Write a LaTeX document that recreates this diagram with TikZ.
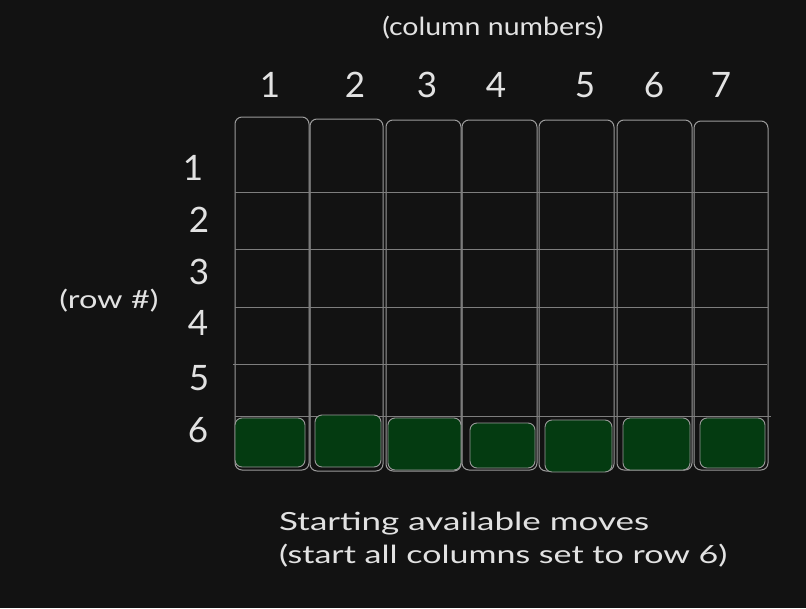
\documentclass[tikz,border=0pt]{standalone}
\usepackage{fontspec}
\setmainfont{Lato}
\definecolor{bg}{HTML}{121212}
\definecolor{ln}{HTML}{9A9A9A}
\definecolor{hl}{HTML}{7E7E7E}
\definecolor{gfill}{HTML}{043B11}
\definecolor{txt}{HTML}{E2E2E2}
\newcommand{\hstretch}[2]{\scalebox{#1}[1]{#2}}
\tikzset{
  colbox/.style={draw=ln, line width=1pt, rounded corners=7pt},
  gbox/.style={draw=ln, fill=gfill, line width=0.9pt, rounded corners=7pt},
  hline/.style={draw=hl, line width=0.8pt},
  bignum/.style={text=txt, font=\fontsize{35}{37}\selectfont, inner sep=0pt},
  lbl/.style={text=txt, font=\fontsize{25}{27}\selectfont, inner sep=0pt},
}
\begin{document}
\begin{tikzpicture}[x=1pt,y=-1pt]
\fill[bg] (0,0) rectangle (806,608);
\useasboundingbox (0,0) rectangle (806,608);
% columns
\draw[colbox] (235,117) rectangle (309,470);
\draw[colbox] (310,119) rectangle (383,471);
\draw[colbox] (386,120) rectangle (461,471);
\draw[colbox] (462,120) rectangle (537,470);
\draw[colbox] (539,120) rectangle (614,471);
\draw[colbox] (617,120) rectangle (692,470);
\draw[colbox] (694,121) rectangle (768,470);
% row lines
\draw[hline] (235,192) -- (768,192);
\draw[hline] (235,249) -- (768,249);
\draw[hline] (235,307) -- (768,307);
\draw[hline] (233,364) -- (767,364);
\draw[hline] (235,416) -- (771,416);
% green boxes
\draw[gbox] (235,418) rectangle (305,467);
\draw[gbox] (315,415) rectangle (381,467);
\draw[gbox] (388,418) rectangle (461,470);
\draw[gbox] (470,423) rectangle (535,468);
\draw[gbox] (545,420) rectangle (612,472);
\draw[gbox] (623,418) rectangle (690,470);
\draw[gbox] (700,418) rectangle (765,468);
% column numbers
\node[lbl] (coltitle) at (493,28) {\hstretch{1.14}{(column numbers)}};
\node[bignum] (c1) at (270,85) {1};
\node[bignum] (c2) at (355,85) {2};
\node[bignum] (c3) at (427,85) {3};
\node[bignum] (c4) at (496,85) {4};
\node[bignum] (c5) at (585,85) {5};
\node[bignum] (c6) at (654,85) {6};
\node[bignum] (c7) at (721,85) {7};
% row numbers
\node[lbl] (rowtitle) at (109,301) {\hstretch{1.3}{(row \#)}};
\node[bignum] (r1) at (193,168) {1};
\node[bignum] (r2) at (199,220) {2};
\node[bignum] (r3) at (199,272) {3};
\node[bignum] (r4) at (198,323) {4};
\node[bignum] (r5) at (199,378) {5};
\node[bignum] (r6) at (198,430) {6};
% bottom text
\node[lbl, anchor=west] (cap1) at (279,524) {\hstretch{1.4}{Starting available moves}};
\node[lbl, anchor=west] (cap2) at (279,556) {\hstretch{1.36}{(start all columns set to row 6)}};
\end{tikzpicture}
\end{document}
